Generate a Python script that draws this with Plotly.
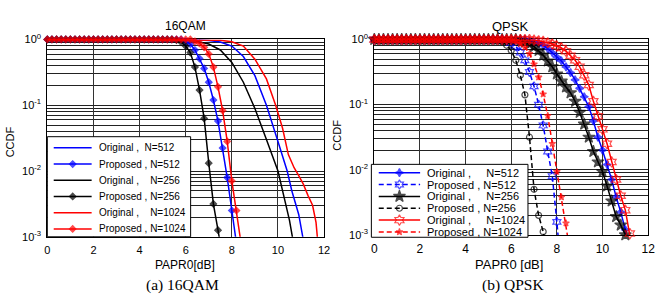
import plotly.graph_objects as go

# ---------------- data ----------------
PAPR_GRID = [0.0, 0.2, 0.4, 0.6, 0.8, 1.0, 1.2, 1.4, 1.6, 1.8, 2.0, 2.2, 2.4, 2.6, 2.8,
             3.0, 3.2, 3.4, 3.6, 3.8, 4.0, 4.2, 4.4, 4.6, 4.8, 5.0, 5.2, 5.4, 5.6, 5.8,
             6.0, 6.2, 6.4, 6.6, 6.8, 7.0, 7.2, 7.4, 7.6, 7.8, 8.0, 8.2, 8.4, 8.6, 8.8,
             9.0, 9.2, 9.4, 9.6, 9.8, 10.0, 10.2, 10.4, 10.6, 10.8, 11.0, 11.2, 11.4]

X_TICKS = [0, 2, 4, 6, 8, 10, 12]
Y_DECADES = [0.001, 0.01, 0.1, 1.0]
Y_DECADE_LABELS = ["10<sup>-3</sup>", "10<sup>-2</sup>", "10<sup>-1</sup>", "10<sup>0</sup>"]

# 16QAM  (log10 CCDF)
QAM_ORIG_512_X = [0, 6.0, 6.5, 7.0, 7.5, 8.0, 8.5, 9.0, 9.5, 10.0, 10.4, 10.6, 10.9, 11.1]
QAM_ORIG_512 = [0, -0.002, -0.006, -0.015, -0.04, -0.1, -0.26, -0.55, -1.0, -1.55, -2.0, -2.3, -2.66, -3.05]
QAM_PROP_512 = [0.0] * 30 + [-0.03, -0.07, -0.16, -0.29, -0.44, -0.65, -0.92, -1.24, -1.65, -2.1, -2.6, -3.1]
QAM_ORIG_256_X = [0, 5.5, 6.0, 6.5, 7.0, 7.5, 8.0, 8.5, 9.0, 9.5, 10.0, 10.3, 10.5, 10.65]
QAM_ORIG_256 = [0, -0.002, -0.008, -0.03, -0.07, -0.16, -0.35, -0.65, -1.05, -1.52, -2.0, -2.45, -2.75, -3.05]
QAM_PROP_256 = [0.0] * 28 + [-0.01, -0.04, -0.1, -0.2, -0.42, -0.77, -1.2, -1.88, -2.5, -2.9, -3.3]
QAM_ORIG_1024_X = [0, 6.5, 7.0, 7.5, 8.0, 8.5, 9.0, 9.5, 9.9, 10.2, 10.45, 10.7, 10.9, 11.1, 11.3, 11.5, 11.65, 11.72]
QAM_ORIG_1024 = [0, -0.001, -0.004, -0.012, -0.035, -0.1, -0.3, -0.6, -1.0, -1.35, -1.75, -1.95, -2.07, -2.2, -2.37, -2.52, -2.78, -3.05]
QAM_PROP_1024 = [0.0] * 32 + [-0.03, -0.06, -0.12, -0.22, -0.42, -0.72, -1.08, -1.55, -2.15, -2.6, -3.1]

# QPSK  (log10 CCDF)
QPSK_ORIG_512 = [0.0] * 34 + [-0.02, -0.04, -0.06, -0.09, -0.14, -0.2, -0.27, -0.33, -0.42, -0.51, -0.62, -0.75,
                              -0.88, -1.03, -1.25, -1.5, -1.7, -1.92, -2.15, -2.42, -2.65, -2.92, -3.2]
QPSK_PROP_512 = [0.0] * 29 + [-0.02, -0.05, -0.1, -0.2, -0.32, -0.5, -0.72, -1.0, -1.32, -1.72, -2.1, -2.8, -3.6]
QPSK_ORIG_256 = [0.0] * 32 + [-0.02, -0.04, -0.07, -0.11, -0.17, -0.24, -0.33, -0.42, -0.53, -0.64, -0.73, -0.82,
                              -0.95, -1.12, -1.3, -1.5, -1.72, -1.88, -2.03, -2.25, -2.48, -2.72, -2.85, -3.0, -3.3]
QPSK_PROP_256 = [0.0] * 27 + [-0.01, -0.03, -0.09, -0.17, -0.32, -0.55, -0.85, -1.5, -2.3, -2.7, -2.95, -3.3]
QPSK_ORIG_1024 = [0.0] * 35 + [-0.01, -0.02, -0.03, -0.05, -0.07, -0.1, -0.13, -0.18, -0.25, -0.32, -0.42, -0.55,
                               -0.7, -0.95, -1.18, -1.38, -1.6, -1.88, -2.15, -2.4, -2.62, -2.98, -3.4]
QPSK_PROP_1024 = [0.0] * 31 + [-0.02, -0.07, -0.12, -0.22, -0.38, -0.58, -0.84, -1.17, -1.6, -2.03, -2.42, -2.82, -3.3]

QAM_NAMES = ["Original ,\u00a0\u00a0N=512", "Proposed , N=512", "Original ,\u00a0\u00a0\u00a0\u00a0N=256",
             "Proposed , N=256", "Original ,\u00a0\u00a0\u00a0\u00a0N=1024", "Proposed , N=1024"]
QPSK_NAMES = ["Original ,\u00a0\u00a0\u00a0\u00a0\u00a0N=512", "Proposed , N=512", "Original ,\u00a0\u00a0\u00a0\u00a0\u00a0N=256",
              "Proposed , N=256", "Original ,\u00a0\u00a0\u00a0\u00a0\u00a0N=1024", "Proposed , N=1024"]

# ---------------- styles ----------------
BLUE, BLACK, RED = "#0000ff", "#000000", "#ff0000"
DASH = "5px,3px"
FONT = "Liberation Sans, Arial, sans-serif"
SERIF = "Liberation Serif, Times New Roman, serif"

qam_styles = [
    dict(color=BLUE, dash="solid", symbol=None, size=0),
    dict(color=BLUE, dash="solid", symbol="diamond", size=5),
    dict(color=BLACK, dash="solid", symbol=None, size=0),
    dict(color=BLACK, dash="solid", symbol="diamond", size=5),
    dict(color=RED, dash="solid", symbol=None, size=0),
    dict(color=RED, dash="solid", symbol="diamond", size=5),
]
qpsk_styles = [
    dict(color=BLUE, dash="solid", symbol="star-diamond", size=6),
    dict(color=BLUE, dash=DASH, symbol="hexagram-open", size=7),
    dict(color=BLACK, dash="solid", symbol="star", size=9),
    dict(color=BLACK, dash=DASH, symbol="circle-open", size=6),
    dict(color=RED, dash="solid", symbol="hexagram-open", size=8),
    dict(color=RED, dash=DASH, symbol="star", size=5),
]

fig = go.Figure()


def add_series(x, logy, st, xa, ya):
    y = [10 ** v for v in logy]
    if st["symbol"] is None:
        fig.add_trace(go.Scatter(x=x, y=y, mode="lines", xaxis=xa, yaxis=ya, showlegend=False,
                                 line=dict(color=st["color"], width=1.5, dash=st["dash"]), hoverinfo="skip"))
    else:
        sizes = [st["size"] if v >= -3.0 else 0 for v in logy]
        fig.add_trace(go.Scatter(x=x, y=y, mode="lines+markers", xaxis=xa, yaxis=ya, showlegend=False,
                                 cliponaxis=False,
                                 line=dict(color=st["color"], width=1.5, dash=st["dash"]),
                                 marker=dict(symbol=st["symbol"], size=sizes, color=st["color"],
                                             line=dict(color=st["color"], width=1.2)),
                                 hoverinfo="skip"))


qam_series = [(QAM_ORIG_512_X, QAM_ORIG_512), (None, QAM_PROP_512), (QAM_ORIG_256_X, QAM_ORIG_256),
              (None, QAM_PROP_256), (QAM_ORIG_1024_X, QAM_ORIG_1024), (None, QAM_PROP_1024)]
for (xs, ys), st in zip(qam_series, qam_styles):
    add_series(xs if xs is not None else PAPR_GRID[:len(ys)], ys, st, "x", "y")

qpsk_series = [QPSK_ORIG_512, QPSK_PROP_512, QPSK_ORIG_256, QPSK_PROP_256, QPSK_ORIG_1024, QPSK_PROP_1024]
for ys, st in zip(qpsk_series, qpsk_styles):
    add_series(PAPR_GRID[:len(ys)], ys, st, "x2", "y2")

# ---------------- legends (drawn on a pixel-space overlay axis) ----------------
W, H = 664, 300


def add_legend(box, row0, dy, x_line, x_text, names, styles, fsize):
    x0, y0, x1, y1 = box
    fig.add_trace(go.Scatter(x=[x0, x1, x1, x0, x0], y=[y0, y0, y1, y1, y0], mode="lines", fill="toself",
                             fillcolor="white", line=dict(color="black", width=1), xaxis="x3", yaxis="y3",
                             showlegend=False, hoverinfo="skip"))
    for i, (nm, st) in enumerate(zip(names, styles)):
        yy = row0 + i * dy
        xs = [x_line[0], (x_line[0] + x_line[1]) / 2, x_line[1]]
        msz = [0, st["size"], 0] if st["symbol"] else [0, 0, 0]
        fig.add_trace(go.Scatter(x=xs, y=[yy] * 3, mode="lines+markers", xaxis="x3", yaxis="y3",
                                 showlegend=False, hoverinfo="skip",
                                 line=dict(color=st["color"], width=1.5, dash=st["dash"]),
                                 marker=dict(symbol=st["symbol"] or "circle", size=msz, color=st["color"],
                                             line=dict(color=st["color"], width=1.2))))
        fig.add_annotation(x=x_text, y=yy, xref="x3", yref="y3", text=nm, showarrow=False,
                           xanchor="left", yanchor="middle", font=dict(family=FONT, size=fsize, color="black"))


add_legend((45, 135, 190.5, 240), 146.7, 17.0, (51.5, 90), 95, QAM_NAMES, qam_styles, 10)
add_legend((374, 164, 533, 240.5), 172.7, 12.45, (381.5, 423.5), 428, QPSK_NAMES, qpsk_styles, 11)

# ---------------- axes ----------------
Y_MINOR = [m * d for d in [0.001, 0.01, 0.1] for m in range(2, 10)]

common_x = dict(range=[0, 12], tickmode="array", tickvals=X_TICKS, showgrid=True, gridcolor="#333333",
                gridwidth=1, showline=True, mirror=True, linecolor="black", linewidth=1, ticks="",
                zeroline=False, layer="below traces", fixedrange=True, ticklabelstandoff=3)
common_y = dict(type="log", range=[-3, 0], tickmode="array", tickvals=Y_DECADES, ticktext=Y_DECADE_LABELS,
                showgrid=True, gridcolor="#222222", gridwidth=1, showline=True, mirror=True, linecolor="black",
                linewidth=1, ticks="", zeroline=False, layer="below traces", fixedrange=True,
                ticklabelstandoff=3,
                minor=dict(tickmode="array", tickvals=Y_MINOR, showgrid=True, gridcolor="#222222",
                           gridwidth=1, ticks=""))

fig.update_layout(
    width=W, height=H, margin=dict(l=0, r=0, t=0, b=0),
    paper_bgcolor="white", plot_bgcolor="rgba(0,0,0,0)", showlegend=False,
    xaxis=dict(domain=[45 / W, 326 / W], anchor="y", tickfont=dict(family=FONT, size=11, color="black"), **common_x),
    yaxis=dict(domain=[1 - 240 / H, 1 - 33 / H], anchor="x", tickfont=dict(family=FONT, size=11, color="black"),
               **common_y),
    xaxis2=dict(domain=[377 / W, 655 / W], anchor="y2", tickfont=dict(family=FONT, size=12, color="black"), **common_x),
    yaxis2=dict(domain=[1 - 238 / H, 1 - 33 / H], anchor="x2", tickfont=dict(family=FONT, size=11, color="black"),
                **common_y),
    xaxis3=dict(domain=[0, 1], range=[0, W], anchor="y3", visible=False, fixedrange=True),
    yaxis3=dict(domain=[0, 1], range=[H, 0], anchor="x3", visible=False, fixedrange=True),
)

# ---------------- text ----------------
texts = [
    dict(x=185, y=19, text="16QAM", size=12, family=FONT, angle=0),
    dict(x=515, y=19, text="QPSK", size=13, family=FONT, angle=0),
    dict(x=185, y=270, text="PAPR0[dB]", size=12, family=FONT, angle=0),
    dict(x=514, y=269, text="PAPR0 [dB]", size=13, family=FONT, angle=0),
    dict(x=8, y=140, text="CCDF", size=11, family=FONT, angle=-90),
    dict(x=339, y=133, text="CCDF", size=11, family=FONT, angle=-90),
    dict(x=182, y=291, text="(a) 16QAM", size=15.5, family=SERIF, angle=0),
    dict(x=518, y=291, text="(b) QPSK", size=15.5, family=SERIF, angle=0),
]
for t in texts:
    fig.add_annotation(x=t["x"], y=t["y"], xref="x3", yref="y3", text=t["text"], showarrow=False,
                       xanchor="center", yanchor="middle", textangle=t["angle"],
                       font=dict(family=t["family"], size=t["size"], color="black"))

fig.write_html("out.html")
